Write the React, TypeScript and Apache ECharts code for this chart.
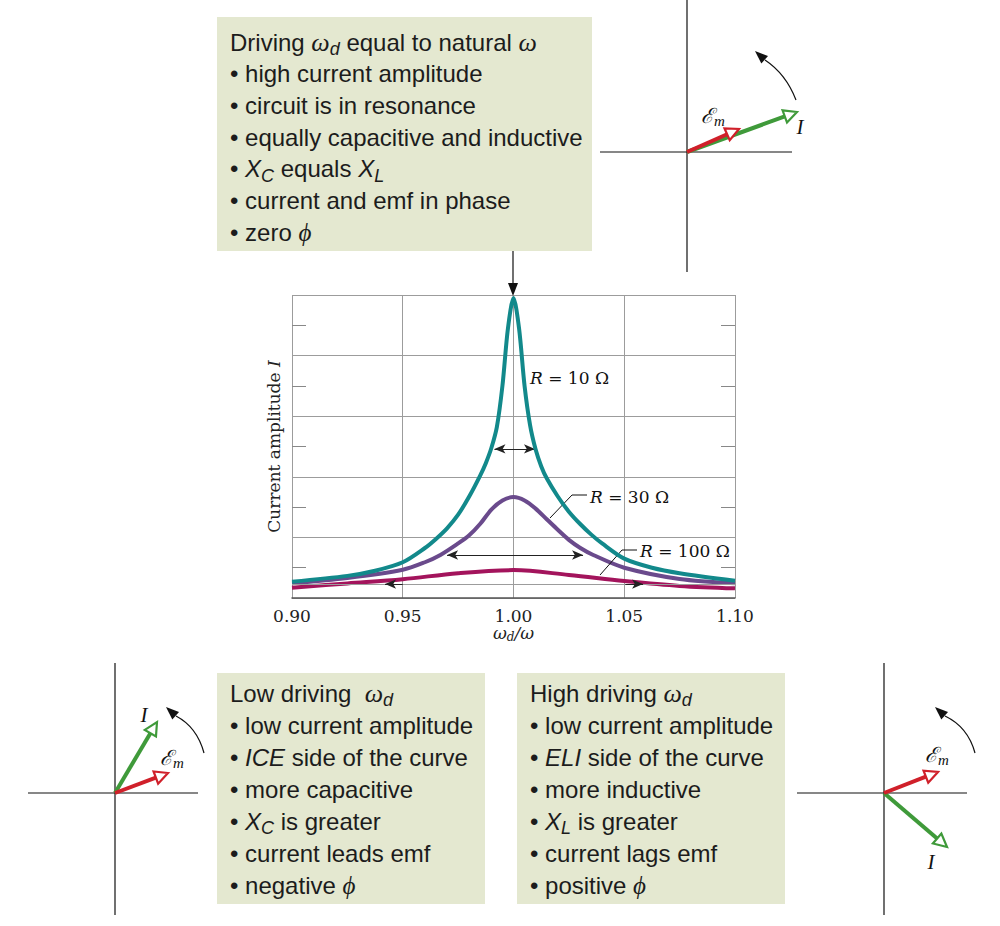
import React, { useEffect, useRef } from 'react';
import * as echarts from 'echarts';

// ---------- data ----------
const xTicks = [0.9, 0.95, 1.0, 1.05, 1.1];
const seriesNames = ['R = 10 Ω', 'R = 30 Ω', 'R = 100 Ω'];

const r10X = [0.9, 0.925, 0.9375, 0.95, 0.96, 0.965, 0.97, 0.975, 0.98, 0.985, 0.9875, 0.99, 0.9925, 0.995, 0.9975, 1.0, 1.0025, 1.005, 1.0075, 1.01, 1.0125, 1.015, 1.02, 1.025, 1.03, 1.035, 1.04, 1.05, 1.0625, 1.075, 1.1];
const r10I = [0.54, 0.73, 0.9, 1.18, 1.65, 1.95, 2.3, 2.75, 3.35, 4.05, 4.45, 4.95, 5.65, 7.0, 8.9, 9.9, 8.9, 7.0, 5.7, 4.9, 4.35, 3.95, 3.35, 2.85, 2.45, 2.1, 1.8, 1.3, 1.0, 0.82, 0.57];

const r30X = [0.9, 0.925, 0.95, 0.96, 0.967, 0.975, 0.98, 0.985, 0.99, 0.995, 1.0, 1.005, 1.01, 1.015, 1.02, 1.025, 1.03, 1.036, 1.05, 1.075, 1.1];
const r30I = [0.49, 0.66, 0.93, 1.18, 1.42, 1.8, 2.07, 2.45, 2.92, 3.22, 3.33, 3.22, 2.95, 2.6, 2.25, 1.92, 1.66, 1.42, 1.0, 0.63, 0.49];

const r100X = [0.9, 0.925, 0.95, 0.975, 1.0, 1.025, 1.05, 1.075, 1.1];
const r100I = [0.34, 0.48, 0.62, 0.82, 0.92, 0.76, 0.56, 0.4, 0.32];

// half-width arrows (x from, x to, level)
const r10Arrow = [0.9914, 1.0097, 4.92];
const r30Arrow = [0.970, 1.0314, 1.42];
const r100Arrow = [0.942, 1.0585, 0.46];

const boxTopLines = [
  'Driving {w|ω}{s|d} equal to natural {w|ω}',
  '• high current amplitude',
  '• circuit is in resonance',
  '• equally capacitive and inductive',
  '• {i|X}{s|C} equals {i|X}{s|L}',
  '• current and emf in phase',
  '• zero {p|ϕ}',
];
const boxLowLines = [
  'Low driving  {w|ω}{s|d}',
  '• low current amplitude',
  '• {i|ICE} side of the curve',
  '• more capacitive',
  '• {i|X}{s|C} is greater',
  '• current leads emf',
  '• negative {p|ϕ}',
];
const boxHighLines = [
  'High driving {w|ω}{s|d}',
  '• low current amplitude',
  '• {i|ELI} side of the curve',
  '• more inductive',
  '• {i|X}{s|L} is greater',
  '• current lags emf',
  '• positive {p|ϕ}',
];

// ---------- styles ----------
const SANS = 'Liberation Sans';
const SERIF = 'DejaVu Serif';
const TSERIF = 'Liberation Serif';
const TEAL = '#12898b';
const PURPLE = '#6a4a8c';
const MAGENTA = '#a3145c';
const BOX = '#e4e8d0';
const GRID = '#9c9c9c';
const RED = '#d0202a';
const GREEN = '#3f9a3a';

const boxRich = {
  w: { fontFamily: TSERIF, fontStyle: 'italic', fontSize: 26, lineHeight: 30 },
  s: { fontFamily: SANS, fontStyle: 'italic', fontSize: 18, lineHeight: 30, padding: [14, 0, 0, 0] },
  i: { fontFamily: SANS, fontStyle: 'italic', fontSize: 24, lineHeight: 30 },
  p: { fontFamily: TSERIF, fontStyle: 'italic', fontSize: 25, lineHeight: 30 },
};

function box(x: number, y: number, w: number, h: number, tx: number, ty: number, step: number, lines: string[]) {
  const els: any[] = [
    { type: 'rect', shape: { x, y, width: w, height: h }, style: { fill: BOX }, z: 1 },
  ];
  lines.forEach((t, i) => {
    els.push({
      type: 'text', x: tx, y: ty + i * step, z: 2,
      style: {
        text: t, fontFamily: SANS, fontSize: 24, lineHeight: 30, fill: '#1c1c1c',
        align: 'left', verticalAlign: 'middle', rich: boxRich,
      },
    });
  });
  return els;
}

function phasor(ox: number, oy: number, tx: number, ty: number, color: string) {
  const dx = tx - ox, dy = ty - oy, len = Math.hypot(dx, dy);
  const ux = dx / len, uy = dy / len;
  const L = 13, W = 6.5;
  const bx = tx - ux * L, by = ty - uy * L;
  return [
    { type: 'line', z: 3, shape: { x1: ox, y1: oy, x2: bx, y2: by }, style: { stroke: color, lineWidth: 4 } },
    {
      type: 'polygon', z: 4,
      shape: { points: [[tx, ty], [bx - uy * W, by + ux * W], [bx + uy * W, by - ux * W]] },
      style: { fill: '#fff', stroke: color, lineWidth: 2.2 },
    },
  ];
}

function curvedArrow(sx: number, sy: number, cx: number, cy: number, ex: number, ey: number, tx: number, ty: number) {
  const dx = tx - ex, dy = ty - ey, len = Math.hypot(dx, dy);
  const ux = dx / len, uy = dy / len;
  const L = 13, W = 5;
  const bx = tx - ux * L, by = ty - uy * L;
  return [
    { type: 'bezierCurve', z: 3, shape: { x1: sx, y1: sy, cpx1: cx, cpy1: cy, x2: ex, y2: ey }, style: { stroke: '#111', lineWidth: 1.2, fill: null } },
    {
      type: 'polygon', z: 3,
      shape: { points: [[tx, ty], [bx - uy * W, by + ux * W], [bx + uy * W, by - ux * W]] },
      style: { fill: '#111' },
    },
  ];
}

function axesCross(cx: number, cy: number, x1: number, x2: number, y1: number, y2: number) {
  return [
    { type: 'line', z: 2, shape: { x1: cx, y1, x2: cx, y2 }, style: { stroke: '#111', lineWidth: 1.2 } },
    { type: 'line', z: 2, shape: { x1, y1: cy, x2, y2: cy }, style: { stroke: '#111', lineWidth: 1.2 } },
  ];
}

const emRich = {
  e: { fontFamily: 'DejaVu Serif', fontStyle: 'italic', fontSize: 21, lineHeight: 24 },
  m: { fontFamily: TSERIF, fontStyle: 'italic', fontSize: 15, lineHeight: 24, padding: [10, 0, 0, 0] },
};
function emLabel(x: number, y: number) {
  return { type: 'text', x, y, z: 5, style: { text: '{e|ℰ}{m|m}', rich: emRich, fill: '#111', align: 'center', verticalAlign: 'middle' } };
}
function iLabel(x: number, y: number) {
  return { type: 'text', x, y, z: 5, style: { text: 'I', fontFamily: TSERIF, fontStyle: 'italic', fontSize: 21, fill: '#111', align: 'center', verticalAlign: 'middle' } };
}
function rLabel(x: number, y: number, t: string) {
  const parts = t.split('R');
  return {
    type: 'text', x, y, z: 5,
    style: {
      text: '{r|R}' + parts[1], fontFamily: SERIF, fontSize: 17, fill: '#111', align: 'left', verticalAlign: 'middle',
      rich: { r: { fontFamily: SERIF, fontStyle: 'italic', fontSize: 17 } },
    },
  };
}

function buildGraphic() {
  const g: any[] = [];
  g.push(...box(217, 17, 375, 234, 230, 42, 31.7, boxTopLines));
  g.push(...box(217, 673, 268, 231, 230, 693, 32, boxLowLines));
  g.push(...box(517, 673, 268, 231, 530, 693, 32, boxHighLines));

  // arrow from top box to resonance peak
  g.push({ type: 'line', z: 3, shape: { x1: 513, y1: 251, x2: 513, y2: 284 }, style: { stroke: '#111', lineWidth: 1.2 } });
  g.push({ type: 'polygon', z: 3, shape: { points: [[513, 296], [508, 283], [518, 283]] }, style: { fill: '#111' } });

  // top-right phasor diagram
  g.push(...axesCross(687, 152, 600, 792, 0, 272));
  g.push(...phasor(687, 152, 797, 112, GREEN));
  g.push(...phasor(687, 152, 739, 129, RED));
  g.push(emLabel(713, 116));
  g.push(iLabel(800, 127));
  g.push(...curvedArrow(796, 100, 786, 74, 765, 60, 755, 51));

  // bottom-left phasor diagram
  g.push(...axesCross(115, 793, 28, 198, 663, 915));
  g.push(...phasor(115, 793, 157, 722, GREEN));
  g.push(...phasor(115, 793, 168, 773, RED));
  g.push(iLabel(144, 715));
  g.push(emLabel(172, 758));
  g.push(...curvedArrow(204, 753, 197, 727, 176, 716, 166, 707));

  // bottom-right phasor diagram
  g.push(...axesCross(884, 793, 797, 967, 663, 915));
  g.push(...phasor(884, 793, 947, 847, GREEN));
  g.push(...phasor(884, 793, 938, 772, RED));
  g.push(emLabel(937, 755));
  g.push(iLabel(931, 862));
  g.push(...curvedArrow(975, 753, 968, 727, 945, 716, 935, 707));

  // curve labels with leaders
  g.push(rLabel(530, 378, seriesNames[0]));
  g.push(rLabel(590, 497, seriesNames[1]));
  g.push(rLabel(640, 551, seriesNames[2]));
  g.push({ type: 'polyline', z: 5, shape: { points: [[587, 495], [572, 495], [550, 518]] }, style: { stroke: '#111', lineWidth: 1, fill: null } });
  g.push({ type: 'polyline', z: 5, shape: { points: [[637, 550], [622, 550], [600, 575]] }, style: { stroke: '#111', lineWidth: 1, fill: null } });
  return g;
}

function pairs(xs: number[], ys: number[]) {
  return xs.map((x, i) => [x, ys[i]]);
}

function arrowLine(data: any[], symbol: string[]) {
  return {
    silent: true, animation: false,
    symbol, symbolSize: [7, 11],
    label: { show: false },
    lineStyle: { color: '#222', width: 1, type: 'solid' },
    data,
  };
}

const axisNameRich = {
  w: { fontFamily: SERIF, fontStyle: 'italic', fontSize: 17 },
  d: { fontFamily: SERIF, fontStyle: 'italic', fontSize: 12, padding: [8, 0, 0, 0] },
  i: { fontFamily: SERIF, fontStyle: 'italic', fontSize: 17 },
};

const gap = 0.008;

const option: any = {
  animation: false,
  backgroundColor: '#fff',
  grid: { left: 292, top: 295, width: 443, height: 303, containLabel: false },
  xAxis: {
    type: 'value', min: xTicks[0], max: xTicks[xTicks.length - 1], interval: 0.05,
    axisLine: { show: true, lineStyle: { color: '#555', width: 1.5 } },
    axisTick: { show: false },
    axisLabel: { formatter: (v: number) => v.toFixed(2), fontFamily: SERIF, fontSize: 17, color: '#222', margin: 9 },
    splitLine: { show: true, lineStyle: { color: GRID, width: 1 } },
    name: '{w|ω}{d|d}{w|/ω}', nameLocation: 'middle', nameGap: 25,
    nameTextStyle: { fontFamily: SERIF, fontSize: 17, color: '#222', rich: axisNameRich },
  },
  yAxis: [
    {
      type: 'value', min: 0, max: 10, interval: 2, position: 'left',
      axisLine: { show: false }, axisTick: { show: false, inside: true }, axisLabel: { show: false },
      minorTick: { show: true, splitNumber: 2, length: 14, lineStyle: { color: '#888', width: 1 } },
      splitLine: { show: true, lineStyle: { color: GRID, width: 1 } },
      name: 'Current amplitude {i|I}', nameLocation: 'middle', nameGap: 10, nameRotate: 90,
      nameTextStyle: { fontFamily: SERIF, fontSize: 17, color: '#222', rich: axisNameRich },
    },
    {
      type: 'value', min: 0, max: 10, interval: 2, position: 'right',
      axisLine: { show: false }, axisTick: { show: false, inside: true }, axisLabel: { show: false },
      minorTick: { show: true, splitNumber: 2, length: 14, lineStyle: { color: '#888', width: 1 } },
      splitLine: { show: false },
    },
  ],
  series: [
    {
      name: seriesNames[2], type: 'line', data: pairs(r100X, r100I), smooth: 0.35, showSymbol: false,
      lineStyle: { color: MAGENTA, width: 4 }, z: 3,
      markLine: {
        silent: true, symbol: 'none', label: { show: false },
        lineStyle: { color: GRID, width: 1, type: 'solid' },
        data: [{ yAxis: r100Arrow[2] }],
      },
    },
    {
      name: seriesNames[1], type: 'line', data: pairs(r30X, r30I), smooth: 0.3, showSymbol: false,
      lineStyle: { color: PURPLE, width: 4 }, z: 4,
      markLine: arrowLine([[{ coord: [r30Arrow[0], r30Arrow[2]] }, { coord: [r30Arrow[1], r30Arrow[2]] }]], ['arrow', 'arrow']),
    },
    {
      name: seriesNames[0], type: 'line', data: pairs(r10X, r10I), smooth: 0.3, showSymbol: false,
      lineStyle: { color: TEAL, width: 4 }, z: 5,
      markLine: arrowLine([[{ coord: [r10Arrow[0], r10Arrow[2]] }, { coord: [r10Arrow[1], r10Arrow[2]] }]], ['arrow', 'arrow']),
    },
    {
      name: 'R100 arrows', type: 'line', data: [], z: 6,
      markLine: arrowLine([
        [{ coord: [r100Arrow[0] + gap, r100Arrow[2]] }, { coord: [r100Arrow[0], r100Arrow[2]] }],
        [{ coord: [r100Arrow[1] - gap, r100Arrow[2]] }, { coord: [r100Arrow[1], r100Arrow[2]] }],
      ], ['none', 'arrow']),
    },
  ],
  graphic: { elements: buildGraphic() },
};

export default function App() {
  const ref = useRef<HTMLDivElement>(null);
  useEffect(() => {
    const chart = echarts.init(ref.current as HTMLDivElement, null, { renderer: 'svg' });
    chart.setOption(option);
    return () => chart.dispose();
  }, []);
  return (
    <div
      ref={ref}
      style={{ position: 'absolute', left: 0, top: 0, width: 1000, height: 926, background: '#fff' }}
    />
  );
}
